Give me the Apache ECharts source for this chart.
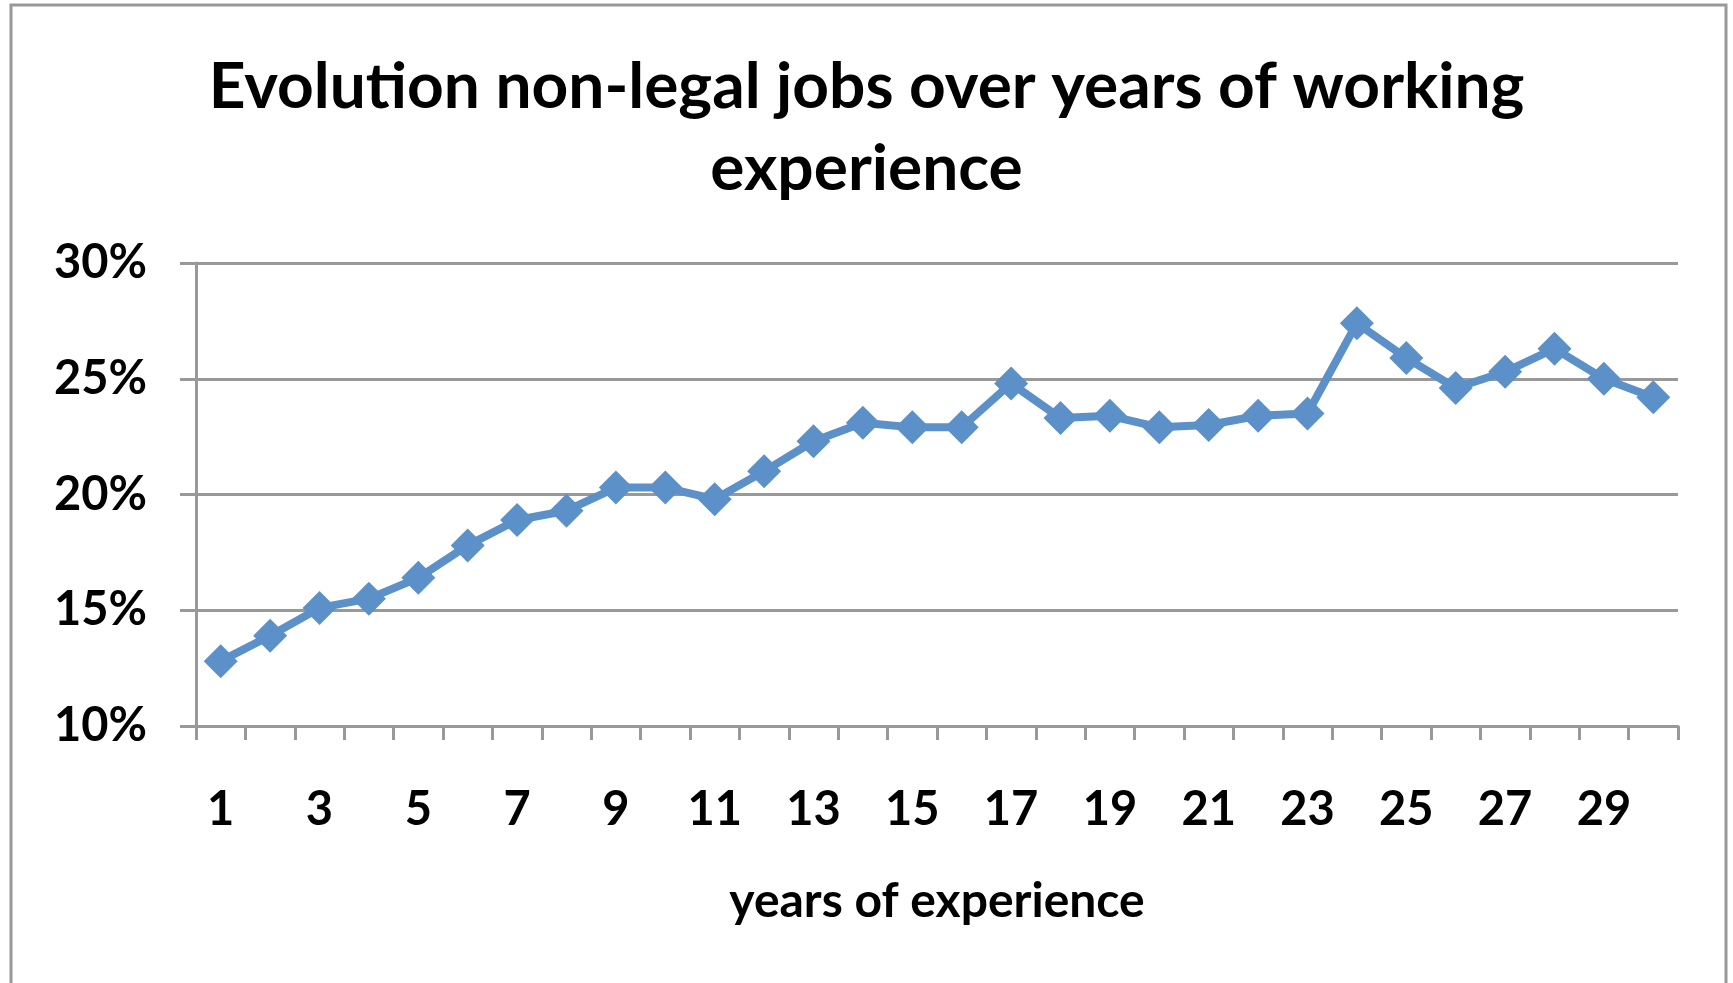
<!DOCTYPE html>
<html>
<head>
<meta charset="utf-8">
<script src="https://cdn.jsdelivr.net/npm/echarts@6/dist/echarts.min.js"></script>
<style>
  html, body { margin: 0; padding: 0; background: #fff; }
  #chart { width: 1733px; height: 983px; }
</style>
</head>
<body>
<div id="chart"></div>
<script>
// years of experience 1..30
const years = ['1', '2', '3', '4', '5', '6', '7', '8', '9', '10',
  '11', '12', '13', '14', '15', '16', '17', '18', '19', '20',
  '21', '22', '23', '24', '25', '26', '27', '28', '29', '30']

// share of non-legal jobs, in percent
const nonLegalShare = [12.8, 13.9, 15.1, 15.5, 16.4, 17.8, 18.9, 19.3, 20.3, 20.3,
  19.8, 21.0, 22.3, 23.1, 22.9, 22.9, 24.8, 23.3, 23.4, 22.9,
  23.0, 23.4, 23.5, 27.4, 25.9, 24.6, 25.3, 26.3, 25.0, 24.2]

const titleText = 'Evolution non-legal jobs over years of working\nexperience'
const xName = 'years of experience'

const gray = '#999999'
const blue = '#5b90c8'
const font = 'Lato, "Open Sans", sans-serif'

const chart = echarts.init(document.getElementById('chart'))

chart.setOption({
  animation: false,
  backgroundColor: '#fff',
  title: {
    text: titleText,
    left: 'center',
    top: 41,
    textStyle: {
      fontFamily: font,
      fontWeight: 'bold',
      fontSize: 64,
      lineHeight: 82,
      color: '#000'
    }
  },
  grid: { left: 196, top: 263, right: 55, bottom: 257, containLabel: false },
  xAxis: {
    type: 'category',
    data: years,
    boundaryGap: true,
    name: xName,
    nameLocation: 'middle',
    nameGap: 152,
    nameTextStyle: { fontFamily: font, fontWeight: 'bold', fontSize: 48, color: '#000' },
    axisLine: { lineStyle: { color: gray, width: 3 } },
    axisTick: { show: true, interval: 0, length: 14, lineStyle: { color: gray, width: 3 } },
    axisLabel: {
      interval: 1,
      margin: 60,
      fontFamily: font,
      fontWeight: 'bold',
      fontSize: 47,
      color: '#000'
    }
  },
  yAxis: {
    type: 'value',
    min: 10,
    max: 30,
    interval: 5,
    axisLine: { show: true, lineStyle: { color: gray, width: 3 } },
    axisTick: { show: true, length: 16, lineStyle: { color: gray, width: 3 } },
    splitLine: { lineStyle: { color: gray, width: 3 } },
    axisLabel: {
      formatter: '{value}%',
      margin: 49,
      fontFamily: font,
      fontWeight: 'bold',
      fontSize: 47,
      color: '#000'
    }
  },
  series: [{
    type: 'line',
    data: nonLegalShare,
    symbol: 'diamond',
    symbolSize: 34,
    showAllSymbol: true,
    lineStyle: { color: blue, width: 8 },
    itemStyle: { color: blue }
  }],
  graphic: [{
    type: 'rect',
    shape: { x: 11, y: 5, width: 1715, height: 1100 },
    style: { fill: 'none', stroke: gray, lineWidth: 3 },
    silent: true
  }]
})
</script>
</body>
</html>
